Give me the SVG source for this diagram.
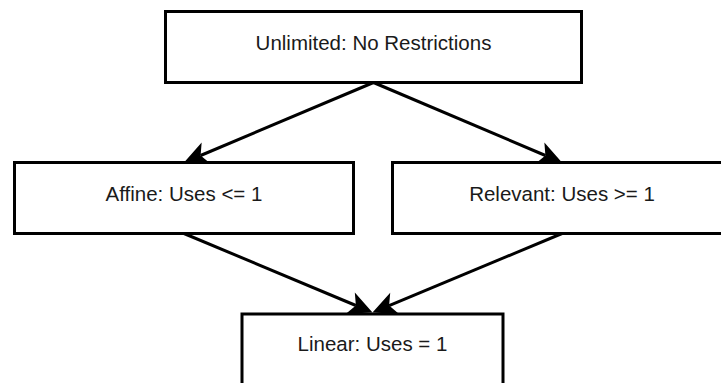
<svg xmlns="http://www.w3.org/2000/svg" width="721" height="383" viewBox="0 0 721 383">
  <defs>
    <style>
      .box { fill: #ffffff; stroke: #000000; stroke-width: 3; }
      .label { font-family: "Liberation Sans", Arial, Helvetica, sans-serif; font-size: 20.5px; fill: #1a1a1a; text-anchor: middle; }
      .edge { fill: none; stroke: #000000; stroke-width: 3; marker-end: url(#arrow); }
    </style>
    <marker id="arrow" markerUnits="userSpaceOnUse" markerWidth="26" markerHeight="26" refX="6" refY="12" orient="auto" overflow="visible">
      <path d="M24,12 L0,0.5 L6,12 L0,23.5 Z" fill="#000000"/>
    </marker>
  </defs>
  <rect width="721" height="383" fill="#ffffff"/>

  <g id="connectors">
    <path class="edge" d="M373.5,82.5 L200.6,155.5"/>
    <path class="edge" d="M373.5,82.5 L545.4,155.5"/>
    <path class="edge" d="M184,233.5 L355.9,305.5"/>
    <path class="edge" d="M562,233.5 L389.1,305.6"/>
  </g>

  <g id="unlimited">
    <rect class="box" x="165.5" y="11.5" width="416" height="71"/>
    <text class="label" x="373.5" y="50">Unlimited: No Restrictions</text>
  </g>

  <g id="affine">
    <rect class="box" x="14.5" y="162.5" width="339" height="71"/>
    <text class="label" x="184" y="200.5">Affine: Uses &lt;= 1</text>
  </g>

  <g id="relevant">
    <rect class="box" x="392.5" y="162.5" width="339" height="71"/>
    <text class="label" x="562" y="200.5">Relevant: Uses &gt;= 1</text>
  </g>

  <g id="linear">
    <rect class="box" x="242" y="314" width="261" height="71"/>
    <text class="label" x="372.5" y="351">Linear: Uses = 1</text>
  </g>
</svg>
